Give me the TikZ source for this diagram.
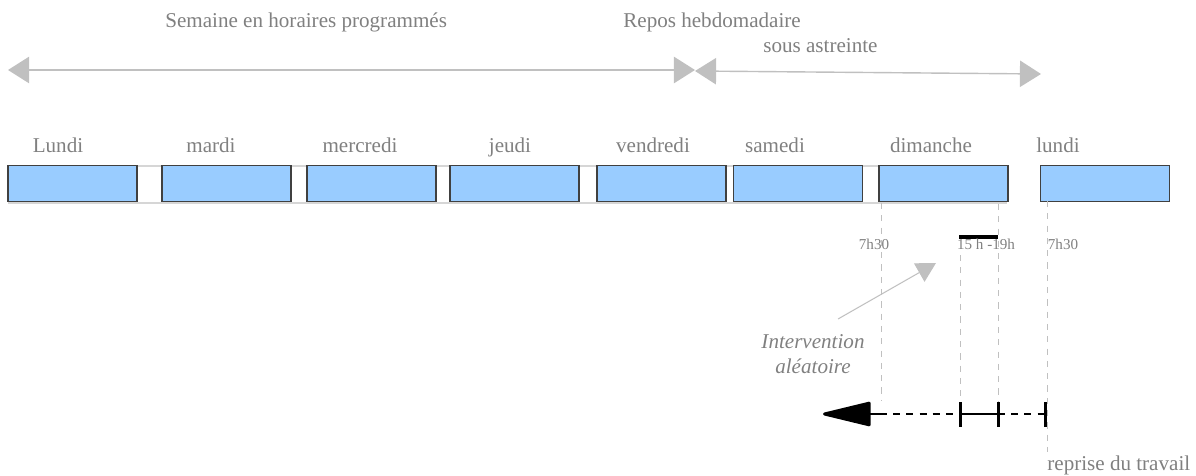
\documentclass[tikz,border=0pt]{standalone}
\usepackage{fontspec}
\setmainfont{Liberation Serif}
\usetikzlibrary{arrows.meta,positioning}
\definecolor{jourbleu}{HTML}{99CCFF}
\definecolor{txtgris}{HTML}{808080}
\definecolor{flgris}{HTML}{C0C0C0}
\definecolor{lgris}{HTML}{D6D6D6}
\tikzset{jour/.style={draw=black!75,fill=jourbleu,minimum width=2.58cm,minimum height=0.72cm,inner sep=0pt,line width=0.7pt},
  lbl/.style={text=txtgris,font=\fontsize{12}{14.2}\selectfont,inner sep=0pt},
  petit/.style={text=txtgris,font=\fontsize{8.6}{10}\selectfont,inner sep=0pt},
  garr/.style={{Triangle[length=12pt,width=15pt]}-{Triangle[length=12pt,width=15pt]},flgris,line width=0.8pt},
  repere/.style={flgris,dash pattern=on 3.5pt off 3.5pt,line width=0.5pt},
  noir/.style={black,line width=1.7pt},
  barre/.style={black,line width=1.7pt}}

\begin{document}
\begin{tikzpicture}[x=0.02cm,y=-0.02cm]
\useasboundingbox (0,0) rectangle (1196,476);
% fond : deux lignes grises derriere les jours
\draw[lgris,line width=0.8pt] (8,166)--(1007,166) (8,203)--(1007,203);
% les jours
\foreach \nom/\x/\txt/\lx in {lun/72.5/Lundi/58,mar/226.5/mardi/211,mer/371.5/mercredi/360,jeu/514.5/jeudi/510,
  ven/661.5/vendredi/653,sam/798/samedi/775,dim/943.5/dimanche/931,lunb/1105/lundi/1058}{
  \node[jour] (\nom) at (\x,183.5) {};
  \node[lbl,anchor=base] (l\nom) at (\lx,153) {\txt};
}
% titres
\node[lbl,anchor=base west] (semaine) at (165,28) {Semaine en horaires programmés};
\node[lbl,anchor=base west] (repos) at (623,28) {Repos hebdomadaire};
\node[lbl,anchor=base west] (astr) at (763,53) {sous astreinte};
\coordinate (ga) at (8,70); \coordinate (gb) at (695,70);
\coordinate (gc) at (695,71); \coordinate (gd) at (1041,74);
\draw[garr] (ga) -- (gb);
\draw[garr] (gc) -- (gd);
% reperes horaires
\draw[repere] (881,203) -- (881,400);
\draw[repere] (960,255) -- (960,425);
\draw[repere] (998,204) -- (998,425);
\draw[repere] (1047,201) -- (1047,452);
\draw[black,line width=2.3pt] (959,237) -- (998,237);
\node[petit,anchor=base] (h1) at (874,250) {7h30};
\node[petit,anchor=base] (h2) at (986,250) {15 h -19h};
\node[petit,anchor=base] (h3) at (1063,250) {7h30};
% intervention
\node[lbl,font=\fontsize{12}{14.2}\selectfont\itshape,align=center,anchor=base] (interv) at (813,373) {Intervention\\aléatoire};
\coordinate (ia) at (838,319); \coordinate (ib) at (936,263);
\draw[flgris,line width=0.6pt,-{Triangle[length=11pt,width=12pt]}] (ia) -- (ib);
% ligne du bas
\coordinate (fa) at (880,414); \coordinate (fb) at (960,414);
\coordinate (fc) at (998,414); \coordinate (fd) at (1045,414);
\coordinate (fin) at (823,414);
\draw[noir,-{Triangle[length=30pt,width=14pt,round]}] (fa) -- (fin);
\draw[noir,dash pattern=on 4pt off 3.5pt] (fa) -- (fb) (fc) -- (fd);
\draw[noir] (fb) -- (fc);
\draw[barre] (960,402) -- (960,427) (998,402) -- (998,427) (1045,402) -- (1045,427);
\node[lbl,anchor=base west] (reprise) at (1047,470) {reprise du travail};
\end{tikzpicture}
\end{document}
